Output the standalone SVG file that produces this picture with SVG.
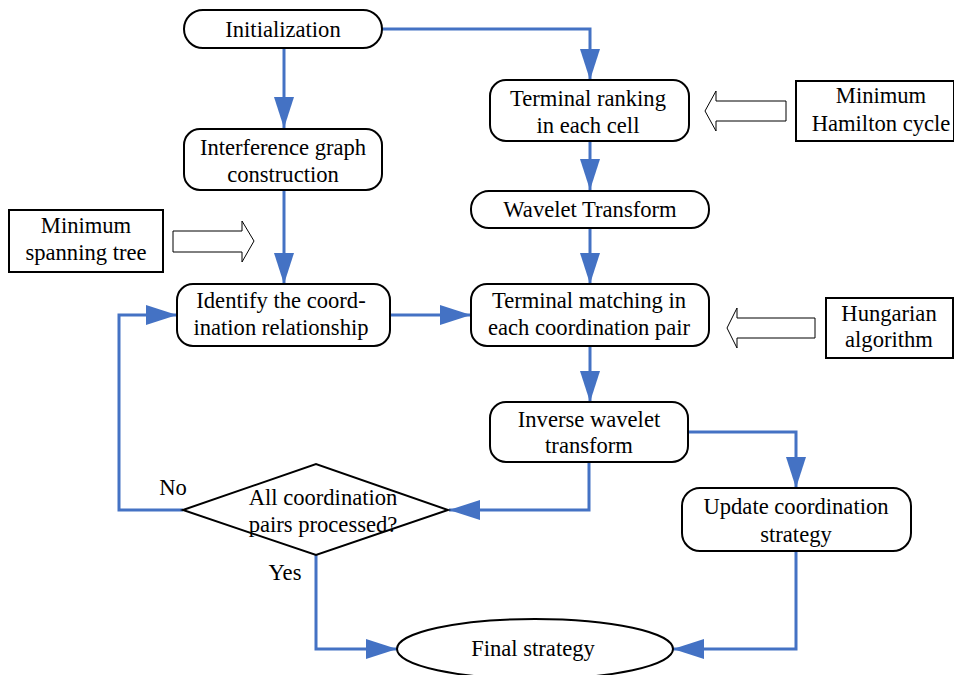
<svg xmlns="http://www.w3.org/2000/svg" width="954" height="675" viewBox="0 0 954 675">
<style>
  .box{fill:#fff;stroke:#000;stroke-width:2}
  .hollow{fill:#fff;stroke:#000;stroke-width:1}
  .conn{fill:none;stroke:#4472C4;stroke-width:3}
  text{font-family:"Liberation Serif","Times New Roman",serif;font-size:22.6px;fill:#000;text-anchor:middle}
</style>
<defs>
  <marker id="ah" markerUnits="userSpaceOnUse" markerWidth="32" markerHeight="22" refX="31" refY="10" orient="auto">
    <path d="M0,0 L31,10 L0,20 Z" fill="#4472C4"/>
  </marker>
</defs>
<rect width="954" height="675" fill="#fff"/>
<g id="connectors">
  <path class="conn" d="M284,48 V128" marker-end="url(#ah)"/>
  <path class="conn" d="M382,29 H590 V80" marker-end="url(#ah)"/>
  <path class="conn" d="M590,141 V190" marker-end="url(#ah)"/>
  <path class="conn" d="M590,228 V284" marker-end="url(#ah)"/>
  <path class="conn" d="M284,190 V284" marker-end="url(#ah)"/>
  <path class="conn" d="M390,315 H471" marker-end="url(#ah)"/>
  <path class="conn" d="M590,346 V402" marker-end="url(#ah)"/>
  <path class="conn" d="M183,510 H119 V315 H177" marker-end="url(#ah)"/>
  <path class="conn" d="M589,462 V510 H449" marker-end="url(#ah)"/>
  <path class="conn" d="M688,432 H796 V488" marker-end="url(#ah)"/>
  <path class="conn" d="M796,551 V649 H673" marker-end="url(#ah)"/>
  <path class="conn" d="M316,555 V649 H397" marker-end="url(#ah)"/>
</g>
<g id="hollow-arrows">
  <polygon class="hollow" points="173,231 242,231 242,221 254,241 242,262 242,252 173,252"/>
  <polygon class="hollow" points="786,101 716,101 716,91 705,111 716,131 716,121 786,121"/>
  <polygon class="hollow" points="815,318 737,318 737,308 727,328 737,348 737,338 815,338"/>
</g>
<g id="init"><rect class="box" x="184" y="10" width="198" height="38" rx="19"/><text x="283" y="37">Initialization</text></g>
<g id="interference"><rect class="box" x="184" y="129" width="198" height="61" rx="16"/><text x="283" y="155">Interference graph</text><text x="283" y="182">construction</text></g>
<g id="ranking"><rect class="box" x="490" y="80" width="199" height="61" rx="16"/><text x="588" y="106">Terminal ranking</text><text x="588" y="133">in each cell</text></g>
<g id="wavelet"><rect class="box" x="471" y="191" width="238" height="37" rx="18"/><text x="590" y="217">Wavelet Transform</text></g>
<g id="matching"><rect class="box" x="471" y="284" width="238" height="62" rx="16"/><text x="589" y="308">Terminal matching in</text><text x="589" y="335">each coordination pair</text></g>
<g id="hamilton"><rect class="box" x="796" y="81" width="158" height="60"/><text x="881" y="103">Minimum</text><text x="881" y="131">Hamilton cycle</text></g>
<g id="hungarian"><rect class="box" x="826" y="298" width="127" height="60"/><text x="889" y="321">Hungarian</text><text x="889" y="347">algorithm</text></g>
<g id="spanning"><rect class="box" x="9" y="210" width="154" height="62"/><text x="86" y="233">Minimum</text><text x="86" y="260">spanning tree</text></g>
<g id="identify"><rect class="box" x="177" y="284" width="213" height="62" rx="16"/><text x="281" y="308">Identify the coord-</text><text x="281" y="335">ination relationship</text></g>
<g id="decision"><polygon class="box" points="183,510 316,464 448,510 316,555"/><text x="323" y="505">All coordination</text><text x="323" y="532">pairs processed?</text></g>
<g id="inverse"><rect class="box" x="490" y="402" width="198" height="60" rx="16"/><text x="589" y="427">Inverse wavelet</text><text x="589" y="453">transform</text></g>
<g id="update"><rect class="box" x="682" y="488" width="229" height="63" rx="18"/><text x="796" y="514">Update coordination</text><text x="796" y="542">strategy</text></g>
<g id="final"><ellipse class="box" cx="535" cy="649" rx="138" ry="30"/><text x="533" y="656">Final strategy</text></g>
<g id="labels"><text x="173" y="495">No</text><text x="285" y="580">Yes</text></g>
</svg>
